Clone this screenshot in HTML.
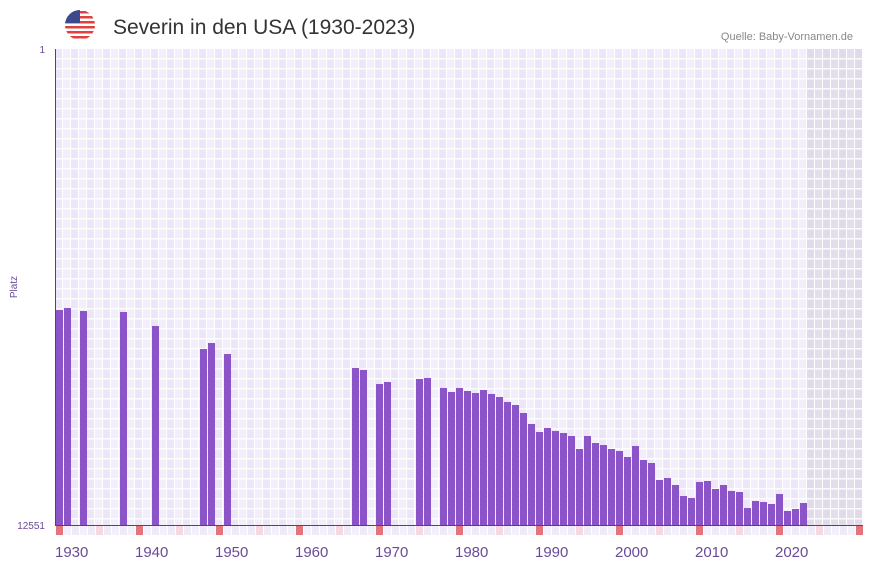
<!DOCTYPE html>
<html><head><meta charset="utf-8"><style>
body{margin:0;background:#fff;width:873px;height:567px;overflow:hidden;font-family:"Liberation Sans",sans-serif}
</style></head><body>
<svg id="chart" width="873" height="567" xmlns="http://www.w3.org/2000/svg">
<g>
<clipPath id="fc"><circle cx="80" cy="25" r="15"/></clipPath>
<g clip-path="url(#fc)">
<rect x="65" y="10" width="30" height="30" fill="#fff"/>
<rect x="65" y="11" width="30" height="2.5" fill="#e0413f"/>
<rect x="65" y="16" width="30" height="2.5" fill="#e0413f"/>
<rect x="65" y="21" width="30" height="2.5" fill="#e0413f"/>
<rect x="65" y="26" width="30" height="2.5" fill="#e0413f"/>
<rect x="65" y="31" width="30" height="2.5" fill="#e0413f"/>
<rect x="65" y="36" width="30" height="2.5" fill="#e0413f"/>
<rect x="65" y="10" width="15" height="13" fill="#3c4a8c"/>
</g></g>
<text x="113" y="34" font-size="21" fill="#333">Severin in den USA (1930-2023)</text>
<text x="853" y="40" font-size="11" fill="#888" text-anchor="end">Quelle: Baby-Vornamen.de</text>
<g id="grid"></g>
<g id="bars"></g>
<g id="marks"></g>
<line x1="55.5" y1="49" x2="55.5" y2="525" stroke="#5b3a8a" stroke-width="1"/>
<line x1="55" y1="525.5" x2="863" y2="525.5" stroke="#5b3a8a" stroke-width="1"/>
<text x="45" y="53" font-size="10" fill="#6a4a9a" text-anchor="end">1</text>
<text x="45" y="529" font-size="10" fill="#6a4a9a" text-anchor="end">12551</text>
<text x="17" y="287" font-size="10" fill="#6a4a9a" text-anchor="middle" transform="rotate(-90 17 287)">Platz</text>
<g id="xlabels"></g>
</svg>
<script>
const years=[1930,1931,1933,1938,1942,1948,1949,1951,1967,1968,1970,1971,1975,1976,1978,1979,1980,1981,1982,1983,1984,1985,1986,1987,1988,1989,1990,1991,1992,1993,1994,1995,1996,1997,1998,1999,2000,2001,2002,2003,2004,2005,2006,2007,2008,2009,2010,2011,2012,2013,2014,2015,2016,2017,2018,2019,2020,2021,2022,2023];
const ranks=[6883,6830,6909,6935,7304,7911,7753,8043,8412,8464,8834,8781,8702,8675,8939,9044,8939,9018,9071,8992,9097,9176,9308,9387,9598,9888,10099,9994,10073,10125,10205,10547,10205,10389,10442,10547,10600,10758,10468,10837,10916,11364,11312,11496,11787,11839,11417,11391,11602,11496,11654,11681,12103,11918,11945,11997,11734,12182,12129,11971];
const tickYears=[1930,1940,1950,1960,1970,1980,1990,2000,2010,2020];
const NS="http://www.w3.org/2000/svg";
const x0=55,slot=8,firstYear=1930,lastYear=2030,yTop=49,yBot=525,rMin=1,rMax=12551;
const xs=y=>x0+(y-firstYear)*slot;
const ys=r=>yTop+(r-rMin)/(rMax-rMin)*(yBot-yTop);
function mk(t,a){const e=document.createElementNS(NS,t);for(const k in a)e.setAttribute(k,a[k]);return e;}
const grid=document.getElementById('grid');
const bg=mk('rect',{x:55,y:49,width:808,height:476,fill:'#fff'});


grid.appendChild(bg);
for(let y=firstYear;y<=lastYear;y++){
  const shaded=y>2023;
  const c=mk('rect',{x:xs(y),y:49,width:7,height:476,fill:shaded?((y%2)?'#e3ddec':'#e0daea'):((y%2)?'#f2eefb':'#ece6f8')});
  
  
  grid.appendChild(c);
}
for(let yy=58;yy<525;yy+=10){
  const l=mk('rect',{x:55,y:yy,width:808,height:1.5,fill:'#fff',opacity:0.85});
  
  
  grid.appendChild(l);
}
const bars=document.getElementById('bars');
years.forEach((yr,i)=>{
  const t=ys(ranks[i]);
  const b=mk('rect',{x:xs(yr)+1,y:t,width:7,height:yBot-t,fill:'#8b54c8'});
  
  
  bars.appendChild(b);
});
const marks=document.getElementById('marks');
for(let y=firstYear;y<=lastYear;y++){
  let f=null;
  if(y%10===0)f='#e5737a';else if(y%5===0)f='#f5d8e0';else f=(y%2)?'#f4f0fb':'#efeaf8';
  const m=mk('rect',{x:xs(y)+1,y:526,width:7,height:9,fill:f});
  
  
  marks.appendChild(m);
}
const xl=document.getElementById('xlabels');
tickYears.forEach(y=>{
  const t=mk('text',{x:xs(y)+0,y:557,'font-size':15,fill:'#6a4a9a'});
  t.textContent=y;
  
  
  xl.appendChild(t);
});
</script>
</body></html>
